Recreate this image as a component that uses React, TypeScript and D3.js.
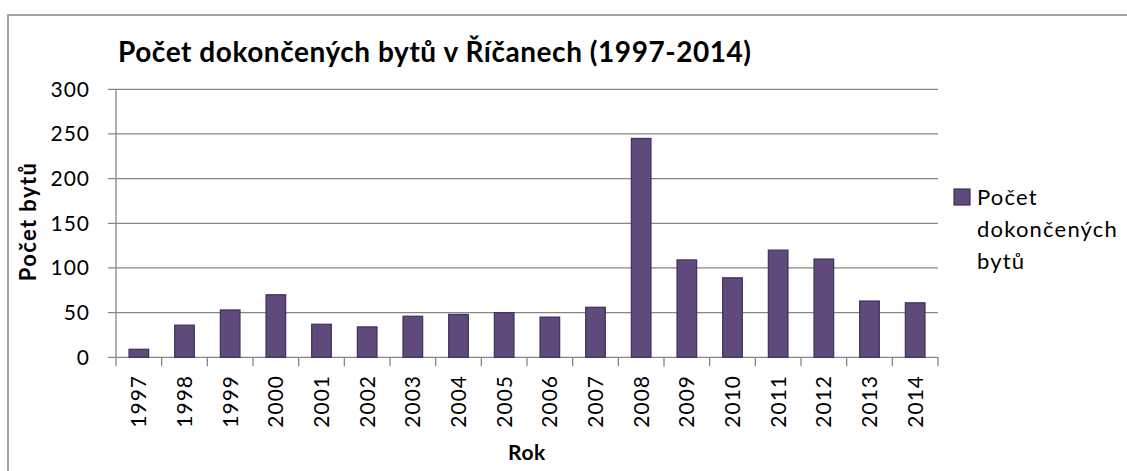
import React from "react";
import * as d3 from "d3";

const years = ["1997","1998","1999","2000","2001","2002","2003","2004","2005","2006","2007","2008","2009","2010","2011","2012","2013","2014"];
const values = [9, 36, 53, 70, 37, 34, 46, 48, 50, 45, 56, 245, 109, 89, 120, 110, 63, 61];
const yTicks = [0, 50, 100, 150, 200, 250, 300];
const title = "Počet dokončených bytů v Říčanech (1997-2014)";
const yTitle = "Počet bytů";
const xTitle = "Rok";
const legendLines = ["Počet", "dokončených", "bytů"];

const W = 1127, H = 471;
const FONT = "Lato, 'Open Sans', sans-serif";

export default function App() {
  const x = d3.scaleBand<string>().domain(years).range([116, 938]).paddingInner(0.57).paddingOuter(0.285);
  const y = d3.scaleLinear().domain([0, 300]).range([357.3, 89.3]);
  const step = (938 - 116) / years.length;
  const boundaries = d3.range(years.length + 1).map(i => 116 + i * step);
  return (
    <svg width={W} height={H} style={{ position: "absolute", left: 0, top: 0, background: "#fff" }} fontFamily={FONT}>
      <rect x={8} y={15} width={1200} height={600} fill="#fff" stroke="#8c8c8c" strokeWidth={1.6} />
      <text x={118} y={62} fontSize={28} fontWeight="bold" letterSpacing={0.55} fill="#000">{title}</text>
      {yTicks.map(t => (
        <g key={t}>
          <line x1={108} x2={938} y1={y(t)} y2={y(t)} stroke="#868686" strokeWidth={1.3} />
          <text x={90} y={y(t) + 7.5} textAnchor="end" fontSize={21} letterSpacing={1} fill="#000">{t}</text>
        </g>
      ))}
      <line x1={116} x2={116} y1={y(300)} y2={y(0)} stroke="#868686" strokeWidth={1.3} />
      {boundaries.map((b, i) => (
        <line key={i} x1={b} x2={b} y1={y(0)} y2={y(0) + 9} stroke="#868686" strokeWidth={1.3} />
      ))}
      {years.map((yr, i) => (
        <rect key={yr} x={x(yr)} y={y(values[i])} width={x.bandwidth()} height={y(0) - y(values[i])}
          fill="#5F4A7B" stroke="#3F3060" strokeWidth={1.2} />
      ))}
      {years.map(yr => {
        const cx = (x(yr) as number) + x.bandwidth() / 2;
        return (
          <text key={yr} transform={`translate(${cx + 7.5},375) rotate(-90)`} textAnchor="end" fontSize={21} letterSpacing={1} fill="#000">{yr}</text>
        );
      })}
      <text transform="translate(36,221.5) rotate(-90)" textAnchor="middle" fontSize={22} fontWeight="bold" letterSpacing={1.4} fill="#000">{yTitle}</text>
      <text x={527} y={460} textAnchor="middle" fontSize={21} fontWeight="bold" letterSpacing={0.6} fill="#000">{xTitle}</text>
      <rect x={954} y={189} width={16} height={16} fill="#5F4A7B" stroke="#3F3060" strokeWidth={1.2} />
      {legendLines.map((l, i) => (
        <text key={l} x={977} y={205 + i * 32} fontSize={22} letterSpacing={1.2} fill="#000">{l}</text>
      ))}
    </svg>
  );
}
